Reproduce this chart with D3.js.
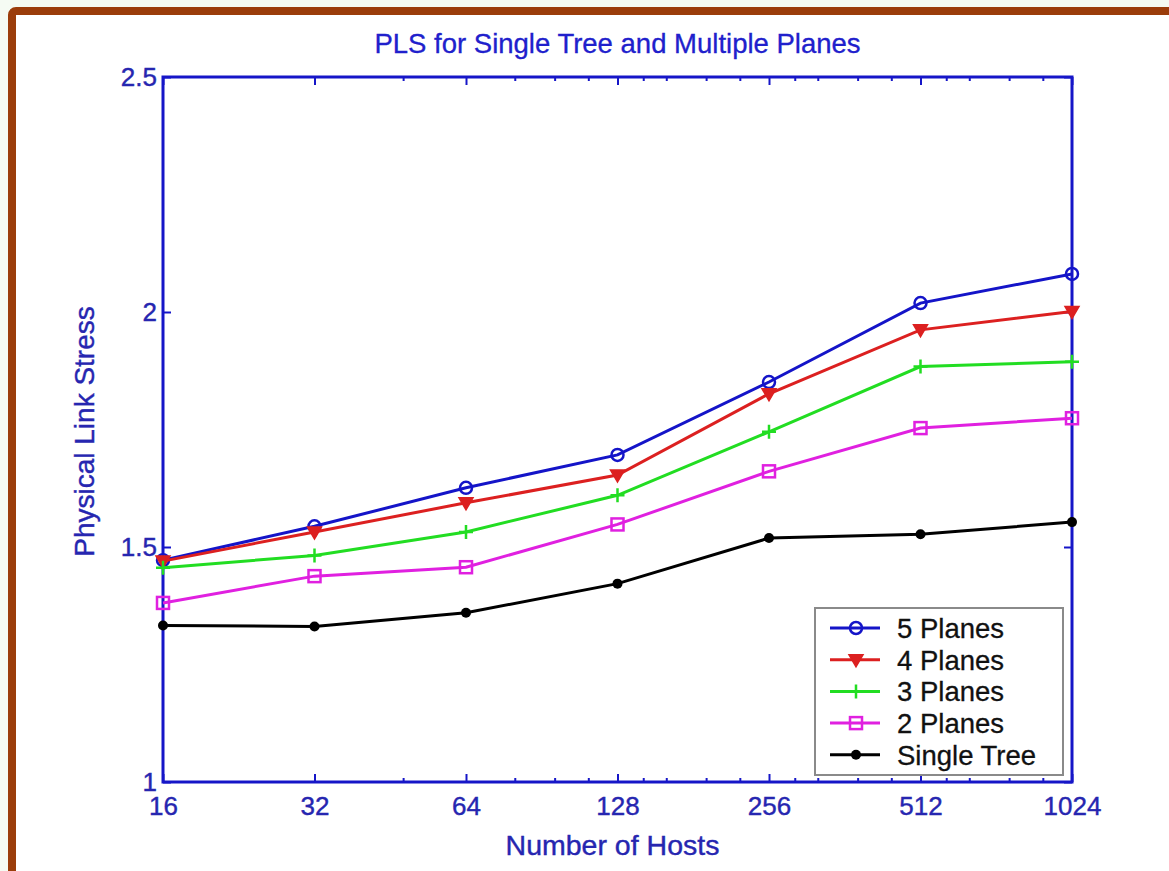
<!DOCTYPE html>
<html lang="en">
<head>
  <meta charset="UTF-8">
  <title>PLS for Single Tree and Multiple Planes</title>
  <script src="https://d3js.org/d3.v7.min.js"></script>
  <style>
    body { margin: 0; background: #f5fbf3; }
    svg { display: block; font-family: "Liberation Sans", Arial, sans-serif; }
  </style>
</head>
<body>
  <svg id="chart"></svg>
  <script>
    // data
    const hosts = [16, 32, 64, 128, 256, 512, 1024];
    const planes5 = [1.472, 1.544, 1.626, 1.696, 1.851, 2.019, 2.081];
    const planes4 = [1.470, 1.532, 1.594, 1.653, 1.826, 1.962, 2.001];
    const planes3 = [1.456, 1.482, 1.532, 1.610, 1.745, 1.884, 1.894];
    const planes2 = [1.381, 1.438, 1.457, 1.548, 1.661, 1.753, 1.774];
    const singleTree = [1.333, 1.331, 1.360, 1.422, 1.519, 1.527, 1.553];
    const seriesNames = ["5 Planes", "4 Planes", "3 Planes", "2 Planes", "Single Tree"];
    const yTicks = [1, 1.5, 2, 2.5];
    const minorTicks = [48, 80, 96, 112, 144, 160, 192, 224, 288, 320, 384, 448, 576, 640, 768, 896];

    const width = 1169, height = 871;
    const plotLeft = 163, plotRight = 1072, plotTop = 77, plotBottom = 782;
    const axisColor = "#1616c8";
    const textColor = "#2626b0";

    const series = [
      { name: seriesNames[0], values: planes5, color: "#1414c8", marker: "circle" },
      { name: seriesNames[1], values: planes4, color: "#dc2020", marker: "triangle" },
      { name: seriesNames[2], values: planes3, color: "#22dd22", marker: "plus" },
      { name: seriesNames[3], values: planes2, color: "#e020e0", marker: "square" },
      { name: seriesNames[4], values: singleTree, color: "#000000", marker: "dot" }
    ];

    const svg = d3.select("#chart").attr("width", width).attr("height", height);

    // brown picture frame
    svg.append("rect")
      .attr("x", 12).attr("y", 11)
      .attr("width", width + 20).attr("height", height + 20)
      .attr("rx", 4)
      .attr("fill", "#ffffff")
      .attr("stroke", "#9b3d0b")
      .attr("stroke-width", 8);

    const x = d3.scaleLog().base(2).domain([16, 1024]).range([plotLeft, plotRight]);
    const y = d3.scaleLinear().domain([1, 2.5]).range([plotBottom, plotTop]);

    // axes: ticks pointing inwards on all four sides
    function styleAxis(g) {
      g.select(".domain").remove();
      g.selectAll(".tick line").attr("stroke", axisColor).attr("stroke-width", 2);
      g.selectAll(".tick text")
        .attr("fill", textColor).attr("font-size", 26)
        .attr("stroke", textColor).attr("stroke-width", 0.4);
    }

    svg.append("g")
      .attr("transform", `translate(0,${plotBottom})`)
      .call(d3.axisBottom(x).tickValues(hosts).tickFormat(d3.format("d"))
        .tickSizeInner(-8).tickSizeOuter(0).tickPadding(15))
      .call(styleAxis);
    svg.append("g")
      .attr("transform", `translate(0,${plotBottom})`)
      .call(d3.axisBottom(x).tickValues(minorTicks).tickFormat("").tickSizeInner(-4).tickSizeOuter(0))
      .call(styleAxis);
    svg.append("g")
      .attr("transform", `translate(0,${plotTop})`)
      .call(d3.axisTop(x).tickValues(hosts).tickFormat("").tickSizeInner(-8).tickSizeOuter(0))
      .call(styleAxis);
    svg.append("g")
      .attr("transform", `translate(0,${plotTop})`)
      .call(d3.axisTop(x).tickValues(minorTicks).tickFormat("").tickSizeInner(-4).tickSizeOuter(0))
      .call(styleAxis);
    svg.append("g")
      .attr("transform", `translate(${plotLeft},0)`)
      .call(d3.axisLeft(y).tickValues(yTicks).tickFormat(d3.format("~g"))
        .tickSizeInner(-8).tickSizeOuter(0).tickPadding(6))
      .call(styleAxis);
    svg.append("g")
      .attr("transform", `translate(${plotRight},0)`)
      .call(d3.axisRight(y).tickValues(yTicks).tickFormat("").tickSizeInner(-8).tickSizeOuter(0))
      .call(styleAxis);

    // axes box
    svg.append("rect")
      .attr("x", plotLeft).attr("y", plotTop)
      .attr("width", plotRight - plotLeft).attr("height", plotBottom - plotTop)
      .attr("fill", "none")
      .attr("stroke", axisColor)
      .attr("stroke-width", 3);

    // markers
    function drawMarker(g, type, color) {
      if (type === "circle") {
        g.append("circle").attr("r", 6).attr("fill", "none").attr("stroke", color).attr("stroke-width", 2.5);
      } else if (type === "triangle") {
        g.append("path").attr("d", "M-7,-5L7,-5L0,7Z").attr("fill", color).attr("stroke", color).attr("stroke-width", 1.5);
      } else if (type === "plus") {
        g.append("path").attr("d", "M-7,0H7M0,-7V7").attr("stroke", color).attr("stroke-width", 2.5);
      } else if (type === "square") {
        g.append("rect").attr("x", -6).attr("y", -6).attr("width", 12).attr("height", 12)
          .attr("fill", "none").attr("stroke", color).attr("stroke-width", 2.5);
      } else {
        g.append("circle").attr("r", 5).attr("fill", color);
      }
    }

    const line = d3.line()
      .x((d, i) => x(hosts[i]))
      .y(d => y(d));

    series.forEach(s => {
      svg.append("path")
        .datum(s.values)
        .attr("d", line)
        .attr("fill", "none")
        .attr("stroke", s.color)
        .attr("stroke-width", 3);
      s.values.forEach((v, i) => {
        const g = svg.append("g").attr("transform", `translate(${x(hosts[i])},${y(v)})`);
        drawMarker(g, s.marker, s.color);
      });
    });

    // title and axis labels
    svg.append("text")
      .attr("x", (plotLeft + plotRight) / 2).attr("y", 53)
      .attr("text-anchor", "middle")
      .attr("font-size", 27.5)
      .attr("fill", "#2020cc")
      .attr("stroke", "#2020cc").attr("stroke-width", 0.3)
      .text("PLS for Single Tree and Multiple Planes");

    svg.append("text")
      .attr("x", (plotLeft + plotRight) / 2 - 5).attr("y", 855)
      .attr("text-anchor", "middle")
      .attr("font-size", 28.5)
      .attr("fill", textColor)
      .attr("stroke", textColor).attr("stroke-width", 0.4)
      .text("Number of Hosts");

    svg.append("text")
      .attr("transform", `translate(94,${(plotTop + plotBottom) / 2 + 2}) rotate(-90)`)
      .attr("text-anchor", "middle")
      .attr("font-size", 28)
      .attr("fill", textColor)
      .attr("stroke", textColor).attr("stroke-width", 0.4)
      .text("Physical Link Stress");

    // legend
    const legend = svg.append("g").attr("transform", "translate(815,608)");
    legend.append("rect")
      .attr("width", 248).attr("height", 167)
      .attr("fill", "#ffffff")
      .attr("stroke", "#8a8a8a")
      .attr("stroke-width", 2);
    series.forEach((s, i) => {
      const row = legend.append("g").attr("transform", `translate(0,${20 + i * 31.7})`);
      row.append("line")
        .attr("x1", 15).attr("x2", 65)
        .attr("stroke", s.color).attr("stroke-width", 3);
      drawMarker(row.append("g").attr("transform", "translate(41,0)"), s.marker, s.color);
      row.append("text")
        .attr("x", 82).attr("dy", "0.36em")
        .attr("font-size", 27.5)
        .attr("fill", "#111111")
        .attr("stroke", "#111111").attr("stroke-width", 0.3)
        .text(s.name);
    });
  </script>
</body>
</html>
